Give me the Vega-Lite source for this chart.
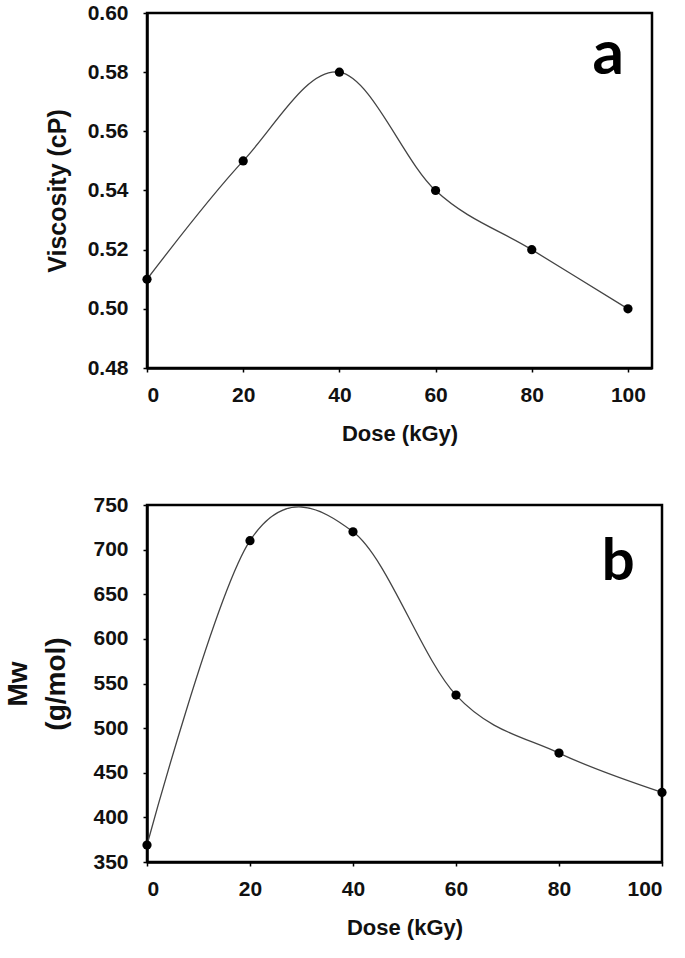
{
  "$schema": "https://vega.github.io/schema/vega-lite/v6.json",
  "background": "white",
  "padding": {"left": 3, "top": 0, "right": 5, "bottom": 5},
  "datasets": {
    "visc": [
      {"dose": 0, "value": 0.51},
      {"dose": 20, "value": 0.55},
      {"dose": 40, "value": 0.58},
      {"dose": 60, "value": 0.54},
      {"dose": 80, "value": 0.52},
      {"dose": 100, "value": 0.50}
    ],
    "mw": [
      {"dose": 0, "value": 369},
      {"dose": 20, "value": 710},
      {"dose": 40, "value": 720},
      {"dose": 60, "value": 537},
      {"dose": 80, "value": 472},
      {"dose": 100, "value": 428}
    ]
  },
  "config": {
    "view": {"stroke": "black", "strokeWidth": 2.5},
    "axis": {
      "grid": false,
      "labelFont": "Liberation Sans",
      "labelFontWeight": "bold",
      "labelFontSize": 21,
      "labelColor": "#111",
      "titleFont": "Liberation Sans",
      "titleFontWeight": "bold",
      "titleFontSize": 22,
      "titleColor": "#111",
      "domainColor": "black",
      "domainWidth": 2.5,
      "tickColor": "black",
      "tickWidth": 1.5,
      "tickSize": 4,
      "labelPadding": 12
    },
    "axisY": {"labelPadding": 15}
  },
  "spacing": 46,
  "vconcat": [
    {
      "width": 505,
      "height": 355,
      "layer": [
        {
          "data": {"name": "visc"},
          "mark": {"type": "line", "interpolate": "cardinal", "color": "#444", "strokeWidth": 1.3},
          "encoding": {
            "x": {"field": "dose", "type": "quantitative", "scale": {"domain": [0, 105], "nice": false}, "axis": {"values": [0, 20, 40, 60, 80, 100], "title": "Dose (kGy)", "titlePadding": 18}},
            "y": {"field": "value", "type": "quantitative", "scale": {"domain": [0.48, 0.6], "nice": false, "zero": false}, "axis": {"values": [0.48, 0.5, 0.52, 0.54, 0.56, 0.58, 0.6], "format": ".2f", "title": "Viscosity (cP)", "titleFontSize": 25, "titlePadding": 17}}
          }
        },
        {
          "data": {"name": "visc"},
          "mark": {"type": "circle", "size": 85, "color": "black", "opacity": 1},
          "encoding": {
            "x": {"field": "dose", "type": "quantitative"},
            "y": {"field": "value", "type": "quantitative"}
          }
        },
        {
          "data": {"values": [{"tag": "a"}]},
          "mark": {"type": "text", "font": "Lato", "fontWeight": "bold", "fontSize": 62, "align": "center", "baseline": "alphabetic", "color": "black"},
          "encoding": {
            "x": {"datum": 95.9, "type": "quantitative"},
            "y": {"datum": 0.5794, "type": "quantitative"},
            "text": {"field": "tag"}
          }
        }
      ]
    },
    {
      "width": 515,
      "height": 357,
      "layer": [
        {
          "data": {"name": "mw"},
          "mark": {"type": "line", "interpolate": "cardinal", "color": "#444", "strokeWidth": 1.3},
          "encoding": {
            "x": {"field": "dose", "type": "quantitative", "scale": {"domain": [0, 100], "nice": false}, "axis": {"values": [0, 20, 40, 60, 80, 100], "title": "Dose (kGy)", "titlePadding": 18}},
            "y": {"field": "value", "type": "quantitative", "scale": {"domain": [350, 750], "nice": false, "zero": false}, "axis": {"values": [350, 400, 450, 500, 550, 600, 650, 700, 750], "title": ["Mw", "(g/mol)"], "titleFontSize": 28, "titleLineHeight": 38, "titlePadding": 22}}
          }
        },
        {
          "data": {"name": "mw"},
          "mark": {"type": "circle", "size": 85, "color": "black", "opacity": 1},
          "encoding": {
            "x": {"field": "dose", "type": "quantitative"},
            "y": {"field": "value", "type": "quantitative"}
          }
        },
        {
          "data": {"values": [{"tag": "b"}]},
          "mark": {"type": "text", "font": "Lato", "fontWeight": "bold", "fontSize": 58, "align": "center", "baseline": "alphabetic", "color": "black"},
          "encoding": {
            "x": {"datum": 91.5, "type": "quantitative"},
            "y": {"datum": 666, "type": "quantitative"},
            "text": {"field": "tag"}
          }
        }
      ]
    }
  ]
}
